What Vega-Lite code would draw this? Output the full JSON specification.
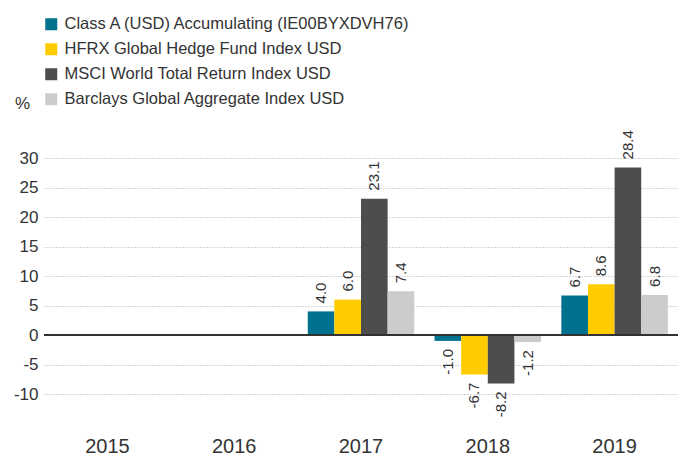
{
  "$schema": "https://vega.github.io/schema/vega-lite/v6.json",
  "width": 634,
  "height": 265.5,
  "autosize": "none",
  "padding": {"left": 44, "top": 158, "right": 0, "bottom": 32.5},
  "config": {
    "font": "Liberation Sans",
    "view": {"stroke": null},
    "locale": {"number": {"decimal": ".", "thousands": ",", "grouping": [3], "currency": ["$", ""], "minus": "-"}}
  },
  "data": {
    "values": [
      {"year": "2017", "series": "Class A (USD) Accumulating (IE00BYXDVH76)", "value": 4.0},
      {"year": "2017", "series": "HFRX Global Hedge Fund Index USD", "value": 6.0},
      {"year": "2017", "series": "MSCI World Total Return Index USD", "value": 23.1},
      {"year": "2017", "series": "Barclays Global Aggregate Index USD", "value": 7.4},
      {"year": "2018", "series": "Class A (USD) Accumulating (IE00BYXDVH76)", "value": -1.0},
      {"year": "2018", "series": "HFRX Global Hedge Fund Index USD", "value": -6.7},
      {"year": "2018", "series": "MSCI World Total Return Index USD", "value": -8.2},
      {"year": "2018", "series": "Barclays Global Aggregate Index USD", "value": -1.2},
      {"year": "2019", "series": "Class A (USD) Accumulating (IE00BYXDVH76)", "value": 6.7},
      {"year": "2019", "series": "HFRX Global Hedge Fund Index USD", "value": 8.6},
      {"year": "2019", "series": "MSCI World Total Return Index USD", "value": 28.4},
      {"year": "2019", "series": "Barclays Global Aggregate Index USD", "value": 6.8}
    ]
  },
  "encoding": {
    "x": {
      "field": "year", "type": "nominal",
      "scale": {"domain": ["2015", "2016", "2017", "2018", "2019"], "paddingInner": 0.16, "paddingOuter": 0.08},
      "axis": {"title": null, "domain": false, "ticks": false, "labelAngle": 0, "labelFontSize": 20, "labelColor": "#333333", "labelPadding": 13, "labelBaseline": "top"}
    },
    "xOffset": {
      "field": "series", "type": "nominal",
      "sort": ["Class A (USD) Accumulating (IE00BYXDVH76)", "HFRX Global Hedge Fund Index USD", "MSCI World Total Return Index USD", "Barclays Global Aggregate Index USD"],
      "scale": {"paddingInner": 0, "paddingOuter": 0}
    },
    "y": {
      "field": "value", "type": "quantitative",
      "scale": {"domain": [-15, 30], "nice": false},
      "axis": {
        "values": [-10, -5, 0, 5, 10, 15, 20, 25, 30],
        "title": "%", "titleAngle": 0, "titleX": -22, "titleY": -55, "titleAlign": "center", "titleBaseline": "middle",
        "titleFontSize": 17, "titleFontWeight": "normal", "titleColor": "#333333",
        "domain": false, "ticks": false, "labelPadding": 6, "labelFontSize": 17, "labelColor": "#333333",
        "gridColor": "#aaaaaa", "gridDash": [1, 2], "gridWidth": 1
      }
    }
  },
  "layer": [
    {
      "mark": {"type": "bar"},
      "encoding": {
        "color": {
          "field": "series", "type": "nominal",
          "scale": {
            "domain": ["Class A (USD) Accumulating (IE00BYXDVH76)", "HFRX Global Hedge Fund Index USD", "MSCI World Total Return Index USD", "Barclays Global Aggregate Index USD"],
            "range": ["#00728f", "#ffcc00", "#4d4d4d", "#cccccc"]
          },
          "legend": {
            "title": null, "orient": "none", "legendX": -1, "legendY": -142,
            "symbolType": "square", "symbolSize": 144, "symbolStrokeWidth": 0,
            "labelFontSize": 16.5, "labelColor": "#333333", "labelOffset": 5, "rowPadding": 8, "labelLimit": 500
          }
        }
      }
    },
    {
      "transform": [{"filter": "datum.value > 0"}],
      "mark": {"type": "text", "angle": -90, "align": "left", "baseline": "middle", "dx": 8, "fontSize": 15, "color": "#333333"},
      "encoding": {"text": {"field": "value", "type": "quantitative", "format": ".1f"}}
    },
    {
      "transform": [{"filter": "datum.value < 0"}],
      "mark": {"type": "text", "angle": -90, "align": "right", "baseline": "middle", "dx": -8, "fontSize": 15, "color": "#333333"},
      "encoding": {"text": {"field": "value", "type": "quantitative", "format": ".1f"}}
    },
    {
      "mark": {"type": "rule", "color": "#333333", "strokeWidth": 1.5},
      "encoding": {"y": {"datum": 0}, "x": null, "xOffset": null}
    }
  ]
}
